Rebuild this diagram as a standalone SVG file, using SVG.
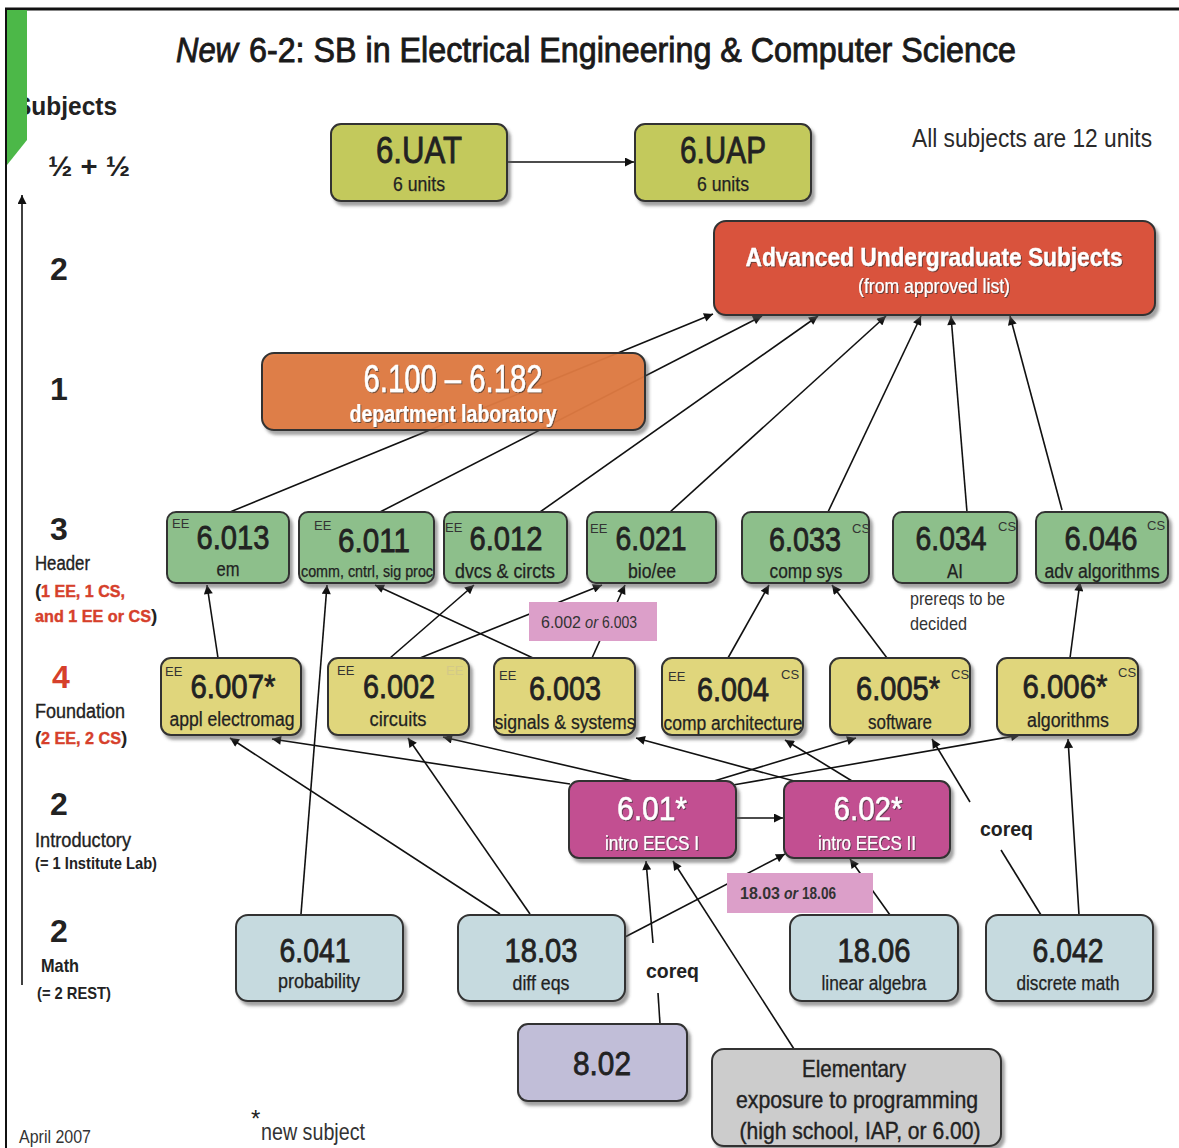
<svg xmlns="http://www.w3.org/2000/svg" width="1179" height="1148" viewBox="0 0 1179 1148">
  <style>
    text { font-family: "Liberation Sans Narrow", "Liberation Sans", Arial, sans-serif; fill: #222; }
    .box { stroke: #333; stroke-width: 2; filter: url(#shadow); }
    .uau { fill: #c3c95b; }
    .adv { fill: #d9533c; }
    .lab { fill: #e07a40; fill-opacity: 0.93; }
    .hdr { fill: #8dbf8b; }
    .fnd { fill: #e0d67c; }
    .intro { fill: #c24f91; }
    .math { fill: #c6dadf; }
    .phys { fill: #c1bed8; }
    .elem { fill: #cccccc; }
    .num { font-size: 33px; text-anchor: middle; stroke: #222; stroke-width: 0.8px; }
    .sub { font-size: 20px; text-anchor: middle; stroke: #222; stroke-width: 0.25px; }
    .tag { font-size: 13px; fill: #333; }
    .wt { fill: #ffffff; stroke: #ffffff; filter: url(#tshadow); }
    .lvl { font-size: 32px; font-weight: bold; fill: #222; }
    .cat { font-size: 20px; fill: #222; stroke: #222; stroke-width: 0.35px; }
    .catp { font-size: 19px; font-weight: bold; fill: #222; }
    .redp { font-size: 16px; font-weight: bold; fill: #d6402b; stroke: #d6402b; stroke-width: 0.4px; }
    .red { fill: #d6402b; }
    .title { font-size: 35px; fill: #1a1a1a; stroke: #1a1a1a; stroke-width: 0.9px; }
    .notetx { font-size: 17px; fill: #333; }
    .edge { stroke: #111; stroke-width: 1.6; fill: none; }
    .arr { marker-end: url(#ah); }
  </style>
  <defs>
    <marker id="ah" viewBox="0 0 10 10" refX="10" refY="5" markerWidth="12" markerHeight="9" orient="auto" markerUnits="userSpaceOnUse">
      <path d="M0,0 L10,5 L0,10 z" fill="#111"/>
    </marker>
    <filter id="shadow" x="-5%" y="-10%" width="115%" height="130%">
      <feDropShadow dx="3" dy="4" stdDeviation="1.5" flood-color="#555" flood-opacity="0.55"/>
    </filter>
    <filter id="tshadow" x="-5%" y="-10%" width="110%" height="130%">
      <feDropShadow dx="1" dy="1" stdDeviation="0.5" flood-color="#333" flood-opacity="0.7"/>
    </filter>
  </defs>

  <!-- page frame -->
  <rect x="0" y="0" width="1179" height="1148" fill="#ffffff"/>
  <line x1="5" y1="9" x2="1179" y2="9" stroke="#111" stroke-width="3"/>
  <line x1="6" y1="8" x2="6" y2="1148" stroke="#111" stroke-width="2"/>

  <!-- title -->
  <text class="title" x="176" y="62" font-style="italic" textLength="62" lengthAdjust="spacingAndGlyphs">New</text>
  <text class="title" x="249" y="62" textLength="767" lengthAdjust="spacingAndGlyphs">6-2: SB in Electrical Engineering &amp; Computer Science</text>

  <!-- level axis -->
  <text x="15" y="115" font-size="25" font-weight="bold" textLength="102" lengthAdjust="spacingAndGlyphs">Subjects</text>
  <polygon points="7,10 27,10 27,140 7,165" fill="#4cb848"/>
  <text x="48" y="176" font-size="28" font-weight="bold" textLength="82" lengthAdjust="spacingAndGlyphs">½ + ½</text>
  <line x1="22" y1="985" x2="22" y2="195" class="edge arr"/>
  <text class="lvl" x="50" y="280">2</text>
  <text class="lvl" x="50" y="400">1</text>
  <text class="lvl" x="50" y="540">3</text>
  <text class="cat" x="35" y="570" textLength="55" lengthAdjust="spacingAndGlyphs">Header</text>
  <text class="catp" x="35" y="597">(</text>
  <text class="redp" x="41" y="597" textLength="84" lengthAdjust="spacingAndGlyphs">1 EE, 1 CS,</text>
  <text class="redp" x="35" y="622" textLength="116" lengthAdjust="spacingAndGlyphs">and 1 EE or CS</text>
  <text class="catp" x="151" y="622">)</text>
  <text class="lvl red" x="52" y="688">4</text>
  <text class="cat" x="35" y="718" textLength="90" lengthAdjust="spacingAndGlyphs">Foundation</text>
  <text class="catp" x="35" y="744">(</text>
  <text class="redp" x="41" y="744" textLength="80" lengthAdjust="spacingAndGlyphs">2 EE, 2 CS</text>
  <text class="catp" x="121" y="744">)</text>
  <text class="lvl" x="50" y="815">2</text>
  <text class="cat" x="35" y="847" textLength="96" lengthAdjust="spacingAndGlyphs">Introductory</text>
  <text class="catp" x="35" y="869" textLength="122" lengthAdjust="spacingAndGlyphs" style="font-size:17px">(= 1 Institute Lab)</text>
  <text class="lvl" x="50" y="942">2</text>
  <text class="catp" x="41" y="972" textLength="38" lengthAdjust="spacingAndGlyphs">Math</text>
  <text class="catp" x="37" y="999" textLength="74" lengthAdjust="spacingAndGlyphs" style="font-size:17px">(= 2 REST)</text>

  <text x="912" y="147" textLength="240" lengthAdjust="spacingAndGlyphs" style="fill:#2a2a2a;font-size:25px">All subjects are 12 units</text>
  <text x="19" y="1143" font-size="18" textLength="72" lengthAdjust="spacingAndGlyphs" style="fill:#333">April 2007</text>
  <text x="251" y="1127" font-size="24" style="fill:#222">*</text>
  <text x="261" y="1140" font-size="24" textLength="104" lengthAdjust="spacingAndGlyphs" style="fill:#333">new subject</text>

  <!-- connectors -->
  <g id="connectors">
    <line class="edge arr" x1="507" y1="162" x2="634" y2="162"/>
    <!-- header subjects to advanced subjects -->
    <line class="edge arr" x1="230" y1="512" x2="713" y2="314"/>
    <line class="edge arr" x1="380" y1="512" x2="762" y2="316"/>
    <line class="edge arr" x1="540" y1="512" x2="818" y2="316"/>
    <line class="edge arr" x1="670" y1="512" x2="886" y2="316"/>
    <line class="edge arr" x1="828" y1="512" x2="921" y2="316"/>
    <line class="edge arr" x1="967" y1="512" x2="951" y2="316"/>
    <line class="edge arr" x1="1062" y1="510" x2="1010" y2="316"/>
    <!-- foundation to header -->
    <line class="edge arr" x1="218" y1="658" x2="207" y2="585"/>
    <line class="edge arr" x1="301" y1="914" x2="327" y2="585"/>
    <line class="edge arr" x1="390" y1="658" x2="474" y2="585"/>
    <line class="edge arr" x1="420" y1="658" x2="602" y2="585"/>
    <line class="edge arr" x1="533" y1="658" x2="375" y2="585"/>
    <line class="edge arr" x1="592" y1="658" x2="625" y2="585"/>
    <line class="edge arr" x1="728" y1="658" x2="769" y2="585"/>
    <line class="edge arr" x1="887" y1="658" x2="832" y2="585"/>
    <line class="edge arr" x1="1070" y1="658" x2="1080" y2="582"/>
    <!-- introductory to foundation -->
    <line class="edge arr" x1="570" y1="784" x2="272" y2="739"/>
    <line class="edge arr" x1="633" y1="781" x2="443" y2="737"/>
    <line class="edge arr" x1="794" y1="781" x2="636" y2="738"/>
    <line class="edge arr" x1="852" y1="781" x2="785" y2="740"/>
    <line class="edge arr" x1="714" y1="781" x2="856" y2="738"/>
    <line class="edge arr" x1="733" y1="785" x2="1020" y2="735"/>
    <line class="edge arr" x1="736" y1="818" x2="783" y2="818"/>
    <!-- math to foundation / introductory -->
    <line class="edge arr" x1="970" y1="802" x2="932" y2="739"/>
    <line class="edge" x1="1001" y1="850" x2="1041" y2="915"/>
    <line class="edge arr" x1="1079" y1="915" x2="1068" y2="739"/>
    <line class="edge arr" x1="500" y1="914" x2="230" y2="738"/>
    <line class="edge arr" x1="530" y1="914" x2="408" y2="738"/>
    <line class="edge arr" x1="625" y1="937" x2="785" y2="854"/>
    <line class="edge arr" x1="653" y1="943" x2="646" y2="861"/>
    <line class="edge" x1="658" y1="993" x2="660" y2="1024"/>
    <line class="edge arr" x1="794" y1="1049" x2="673" y2="861"/>
    <line class="edge arr" x1="890" y1="915" x2="850" y2="859"/>
  </g>

  <!-- connector notes -->
  <g id="note-6002-6003">
    <rect x="529" y="602" width="128" height="39" fill="#dc9fc9"/>
    <text class="notetx" x="541" y="628" textLength="40" lengthAdjust="spacingAndGlyphs">6.002</text>
    <text class="notetx" x="585" y="628" font-style="italic" textLength="13" lengthAdjust="spacingAndGlyphs">or</text>
    <text class="notetx" x="602" y="628" textLength="35" lengthAdjust="spacingAndGlyphs">6.003</text>
  </g>
  <g id="note-1803-1806">
    <rect x="727" y="873" width="146" height="40" fill="#dc9fc9"/>
    <text class="notetx" x="740" y="899" font-weight="bold" textLength="40" lengthAdjust="spacingAndGlyphs">18.03</text>
    <text class="notetx" x="784" y="899" font-weight="bold" font-style="italic" textLength="14" lengthAdjust="spacingAndGlyphs">or</text>
    <text class="notetx" x="802" y="899" font-weight="bold" textLength="34" lengthAdjust="spacingAndGlyphs">18.06</text>
  </g>
  <text x="980" y="836" font-size="21" font-weight="bold" textLength="53" lengthAdjust="spacingAndGlyphs">coreq</text>
  <text x="646" y="978" font-size="21" font-weight="bold" textLength="53" lengthAdjust="spacingAndGlyphs">coreq</text>

  <!-- capstone -->
  <g id="n-6UAT">
    <rect class="box uau" x="331" y="124" width="176" height="77" rx="10"/>
    <text class="num" x="419" y="163" textLength="86" lengthAdjust="spacingAndGlyphs" style="font-size:37px">6.UAT</text>
    <text class="sub" x="419" y="191" textLength="52" lengthAdjust="spacingAndGlyphs">6 units</text>
  </g>
  <g id="n-6UAP">
    <rect class="box uau" x="635" y="124" width="176" height="77" rx="10"/>
    <text class="num" x="723" y="163" textLength="86" lengthAdjust="spacingAndGlyphs" style="font-size:37px">6.UAP</text>
    <text class="sub" x="723" y="191" textLength="52" lengthAdjust="spacingAndGlyphs">6 units</text>
  </g>
  <g id="n-advanced">
    <rect class="box adv" x="714" y="221" width="441" height="94" rx="12"/>
    <text class="wt" x="934" y="266" font-weight="bold" text-anchor="middle" textLength="377" lengthAdjust="spacingAndGlyphs" style="stroke-width:0.3px;font-size:26px">Advanced Undergraduate Subjects</text>
    <text class="wt" x="934" y="293" font-size="20" text-anchor="middle" textLength="152" lengthAdjust="spacingAndGlyphs" style="stroke-width:0.2px">(from approved list)</text>
  </g>
  <g id="n-lab">
    <rect class="box lab" x="262" y="353" width="383" height="77" rx="12"/>
    <text class="wt" x="453" y="392" font-size="38" text-anchor="middle" textLength="179" lengthAdjust="spacingAndGlyphs" style="stroke-width:0.5px">6.100 – 6.182</text>
    <text class="wt" x="453" y="422" font-size="24" font-weight="bold" text-anchor="middle" textLength="207" lengthAdjust="spacingAndGlyphs" style="stroke-width:0.2px">department laboratory</text>
  </g>

  <!-- header subjects -->
  <g id="n-6013">
    <rect class="box hdr" x="167" y="512" width="122" height="71" rx="9"/>
    <text class="tag" x="172" y="528">EE</text>
    <text class="num" x="233" y="549" textLength="73" lengthAdjust="spacingAndGlyphs">6.013</text>
    <text class="sub" x="228" y="576" textLength="23" lengthAdjust="spacingAndGlyphs">em</text>
  </g>
  <g id="n-6011">
    <rect class="box hdr" x="299" y="512" width="135" height="71" rx="9"/>
    <text class="tag" x="314" y="530">EE</text>
    <text class="num" x="374" y="552" textLength="72" lengthAdjust="spacingAndGlyphs">6.011</text>
    <text class="sub" x="367" y="577" textLength="132" lengthAdjust="spacingAndGlyphs" style="font-size:16px">comm, cntrl, sig proc</text>
  </g>
  <g id="n-6012">
    <rect class="box hdr" x="444" y="512" width="123" height="71" rx="9"/>
    <text class="tag" x="445" y="532">EE</text>
    <text class="num" x="506" y="550" textLength="73" lengthAdjust="spacingAndGlyphs">6.012</text>
    <text class="sub" x="505" y="578" textLength="100" lengthAdjust="spacingAndGlyphs">dvcs &amp; circts</text>
  </g>
  <g id="n-6021">
    <rect class="box hdr" x="587" y="512" width="129" height="71" rx="9"/>
    <text class="tag" x="590" y="533">EE</text>
    <text class="num" x="651" y="550" textLength="71" lengthAdjust="spacingAndGlyphs">6.021</text>
    <text class="sub" x="652" y="578" textLength="48" lengthAdjust="spacingAndGlyphs">bio/ee</text>
  </g>
  <g id="n-6033">
    <rect class="box hdr" x="742" y="512" width="127" height="71" rx="9"/>
    <text class="tag" x="852" y="533">CS</text>
    <text class="num" x="805" y="551" textLength="72" lengthAdjust="spacingAndGlyphs">6.033</text>
    <text class="sub" x="806" y="578" textLength="73" lengthAdjust="spacingAndGlyphs">comp sys</text>
  </g>
  <g id="n-6034">
    <rect class="box hdr" x="893" y="512" width="124" height="71" rx="9"/>
    <text class="tag" x="998" y="531">CS</text>
    <text class="num" x="951" y="550" textLength="71" lengthAdjust="spacingAndGlyphs">6.034</text>
    <text class="sub" x="955" y="578" textLength="16" lengthAdjust="spacingAndGlyphs">AI</text>
    <text x="910" y="605" font-size="19" textLength="95" lengthAdjust="spacingAndGlyphs" style="fill:#333">prereqs to be</text>
    <text x="910" y="630" font-size="19" textLength="57" lengthAdjust="spacingAndGlyphs" style="fill:#333">decided</text>
  </g>
  <g id="n-6046">
    <rect class="box hdr" x="1036" y="512" width="132" height="71" rx="9"/>
    <text class="tag" x="1147" y="530">CS</text>
    <text class="num" x="1101" y="550" textLength="73" lengthAdjust="spacingAndGlyphs">6.046</text>
    <text class="sub" x="1102" y="578" textLength="115" lengthAdjust="spacingAndGlyphs">adv algorithms</text>
  </g>

  <!-- foundation subjects -->
  <g id="n-6007">
    <rect class="box fnd" x="161" y="658" width="140" height="77" rx="10"/>
    <text class="tag" x="165" y="676">EE</text>
    <text class="num" x="233" y="698" textLength="85" lengthAdjust="spacingAndGlyphs">6.007*</text>
    <text class="sub" x="232" y="726" textLength="125" lengthAdjust="spacingAndGlyphs">appl electromag</text>
  </g>
  <g id="n-6002">
    <rect class="box fnd" x="328" y="658" width="141" height="77" rx="10"/>
    <text class="tag" x="337" y="675">EE</text>
    <text class="tag" x="446" y="675" style="fill:#d3c987">EE</text>
    <text class="num" x="399" y="698" textLength="72" lengthAdjust="spacingAndGlyphs">6.002</text>
    <text class="sub" x="398" y="726" textLength="57" lengthAdjust="spacingAndGlyphs">circuits</text>
  </g>
  <g id="n-6003">
    <rect class="box fnd" x="494" y="658" width="141" height="77" rx="10"/>
    <text class="tag" x="499" y="680">EE</text>
    <text class="num" x="565" y="700" textLength="72" lengthAdjust="spacingAndGlyphs">6.003</text>
    <text class="sub" x="565" y="729" textLength="141" lengthAdjust="spacingAndGlyphs">signals &amp; systems</text>
  </g>
  <g id="n-6004">
    <rect class="box fnd" x="662" y="658" width="141" height="77" rx="10"/>
    <text class="tag" x="668" y="681">EE</text>
    <text class="tag" x="781" y="679">CS</text>
    <text class="num" x="733" y="701" textLength="72" lengthAdjust="spacingAndGlyphs">6.004</text>
    <text class="sub" x="733" y="730" textLength="139" lengthAdjust="spacingAndGlyphs">comp architecture</text>
  </g>
  <g id="n-6005">
    <rect class="box fnd" x="830" y="658" width="140" height="77" rx="10"/>
    <text class="tag" x="951" y="679">CS</text>
    <text class="num" x="898" y="700" textLength="84" lengthAdjust="spacingAndGlyphs">6.005*</text>
    <text class="sub" x="900" y="729" textLength="64" lengthAdjust="spacingAndGlyphs">software</text>
  </g>
  <g id="n-6006">
    <rect class="box fnd" x="997" y="658" width="141" height="77" rx="10"/>
    <text class="tag" x="1118" y="677">CS</text>
    <text class="num" x="1065" y="698" textLength="85" lengthAdjust="spacingAndGlyphs">6.006*</text>
    <text class="sub" x="1068" y="727" textLength="82" lengthAdjust="spacingAndGlyphs">algorithms</text>
  </g>

  <!-- introductory subjects -->
  <g id="n-601">
    <rect class="box intro" x="569" y="781" width="167" height="77" rx="10"/>
    <text class="num wt" x="652" y="820" textLength="70" lengthAdjust="spacingAndGlyphs" style="stroke-width:0.5px">6.01*</text>
    <text class="sub wt" x="652" y="850" textLength="94" lengthAdjust="spacingAndGlyphs" style="stroke-width:0.2px">intro EECS I</text>
  </g>
  <g id="n-602">
    <rect class="box intro" x="784" y="781" width="166" height="77" rx="10"/>
    <text class="num wt" x="868" y="820" textLength="69" lengthAdjust="spacingAndGlyphs" style="stroke-width:0.5px">6.02*</text>
    <text class="sub wt" x="867" y="850" textLength="98" lengthAdjust="spacingAndGlyphs" style="stroke-width:0.2px">intro EECS II</text>
  </g>

  <!-- math subjects -->
  <g id="n-6041">
    <rect class="box math" x="236" y="915" width="167" height="86" rx="12"/>
    <text class="num" x="315" y="962" textLength="71" lengthAdjust="spacingAndGlyphs">6.041</text>
    <text class="sub" x="319" y="988" textLength="82" lengthAdjust="spacingAndGlyphs">probability</text>
  </g>
  <g id="n-1803">
    <rect class="box math" x="458" y="915" width="167" height="86" rx="12"/>
    <text class="num" x="541" y="962" textLength="73" lengthAdjust="spacingAndGlyphs">18.03</text>
    <text class="sub" x="541" y="990" textLength="57" lengthAdjust="spacingAndGlyphs">diff eqs</text>
  </g>
  <g id="n-1806">
    <rect class="box math" x="790" y="915" width="168" height="86" rx="12"/>
    <text class="num" x="874" y="962" textLength="73" lengthAdjust="spacingAndGlyphs">18.06</text>
    <text class="sub" x="874" y="990" textLength="105" lengthAdjust="spacingAndGlyphs">linear algebra</text>
  </g>
  <g id="n-6042">
    <rect class="box math" x="986" y="915" width="167" height="86" rx="12"/>
    <text class="num" x="1068" y="962" textLength="71" lengthAdjust="spacingAndGlyphs">6.042</text>
    <text class="sub" x="1068" y="990" textLength="103" lengthAdjust="spacingAndGlyphs">discrete math</text>
  </g>

  <!-- other prerequisites -->
  <g id="n-802">
    <rect class="box phys" x="518" y="1024" width="169" height="77" rx="10"/>
    <text class="num" x="602" y="1075" textLength="58" lengthAdjust="spacingAndGlyphs">8.02</text>
  </g>
  <g id="n-elementary">
    <rect class="box elem" x="712" y="1049" width="289" height="97" rx="12"/>
    <text class="sub" x="854" y="1077" textLength="104" lengthAdjust="spacingAndGlyphs" style="font-size:24px;stroke-width:0.4px">Elementary</text>
    <text class="sub" x="857" y="1108" textLength="242" lengthAdjust="spacingAndGlyphs" style="font-size:24px;stroke-width:0.4px">exposure to programming</text>
    <text class="sub" x="860" y="1139" textLength="241" lengthAdjust="spacingAndGlyphs" style="font-size:24px;stroke-width:0.4px">(high school, IAP, or 6.00)</text>
  </g>
</svg>
